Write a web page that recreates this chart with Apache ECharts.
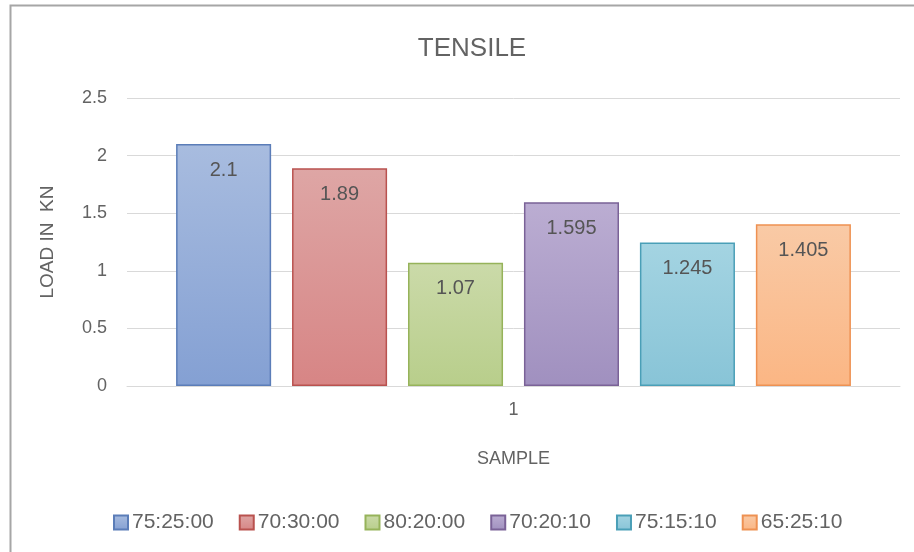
<!DOCTYPE html>
<html>
<head>
<meta charset="utf-8">
<script src="https://cdn.jsdelivr.net/npm/echarts@6/dist/echarts.min.js"></script>
<style>
  html, body { margin: 0; padding: 0; background: #ffffff; }
  #chart { width: 914px; height: 552px; }
</style>
</head>
<body>
<div id="chart"></div>
<script>
// Tensile load per mix ratio, single sample
const categories = ['1'];
const seriesNames = ['75:25:00', '70:30:00', '80:20:00', '70:20:10', '75:15:10', '65:25:10'];
const loadValues = [2.1, 1.89, 1.07, 1.595, 1.245, 1.405];
const yTicks = [0, 0.5, 1, 1.5, 2, 2.5];

// fill gradient (top, bottom) and outline per series
const palette = [
  ['#a8bcdf', '#84a0d3', '#5b7db8'],
  ['#dea6a5', '#d78585', '#b9524f'],
  ['#cbdaa9', '#b8ce8b', '#96b35a'],
  ['#bbadd2', '#a090bf', '#7a6297'],
  ['#a4d4e2', '#88c4d7', '#4a9fb7'],
  ['#f9caa6', '#fbb684', '#ee9152']
];

const textGray = '#636363';
const font = 'Liberation Sans, Arial, sans-serif';

const chart = echarts.init(document.getElementById('chart'), null, { renderer: 'canvas' });

const series = seriesNames.map((name, i) => ({
  name: name,
  type: 'bar',
  data: [loadValues[i]],
  barGap: '22%',
  barCategoryGap: '12.7%',
  itemStyle: {
    color: new echarts.graphic.LinearGradient(0, 0, 0, 1, [
      { offset: 0, color: palette[i][0] },
      { offset: 1, color: palette[i][1] }
    ]),
    borderColor: palette[i][2],
    borderWidth: 1.5
  },
  label: {
    show: true,
    position: 'insideTop',
    distance: 16,
    fontFamily: font,
    fontSize: 20,
    color: '#555555',
    formatter: p => String(p.value)
  }
}));

chart.setOption({
  animation: false,
  backgroundColor: '#ffffff',
  graphic: [{
    type: 'rect',
    left: 8,
    top: 3,
    shape: { width: 1000, height: 1000 },
    style: { fill: 'none', stroke: '#a6a6a6', lineWidth: 2 },
    silent: true
  }],
  title: {
    text: 'TENSILE',
    left: 467,
    top: 31,
    textAlign: 'center',
    textStyle: {
      fontFamily: font,
      fontWeight: 'normal',
      fontSize: 26,
      color: textGray
    }
  },
  legend: {
    data: seriesNames,
    left: 108,
    top: 507,
    icon: 'rect',
    itemWidth: 14,
    itemHeight: 14,
    itemGap: 25,
    textStyle: { fontFamily: font, fontSize: 21, color: textGray, padding: [0, 0, 0, -1] }
  },
  grid: { left: 127, right: 14, top: 98, bottom: 166, containLabel: false },
  xAxis: {
    type: 'category',
    data: categories,
    name: 'SAMPLE',
    nameLocation: 'middle',
    nameGap: 64,
    nameTextStyle: { fontFamily: font, fontSize: 18, color: textGray },
    axisLine: { lineStyle: { color: '#d9d9d9', width: 1 } },
    axisTick: { show: false },
    axisLabel: { fontFamily: font, fontSize: 18, color: textGray, margin: 15 }
  },
  yAxis: {
    type: 'value',
    min: yTicks[0],
    max: yTicks[yTicks.length - 1],
    interval: 0.5,
    name: 'LOAD IN  KN',
    nameLocation: 'middle',
    nameGap: 70,
    nameTextStyle: { fontFamily: font, fontSize: 19, color: textGray },
    axisLine: { show: false },
    axisTick: { show: false },
    splitLine: { lineStyle: { color: '#d9d9d9', width: 1 } },
    axisLabel: { fontFamily: font, fontSize: 18, color: textGray, margin: 20 }
  },
  series: series
});
</script>
</body>
</html>
